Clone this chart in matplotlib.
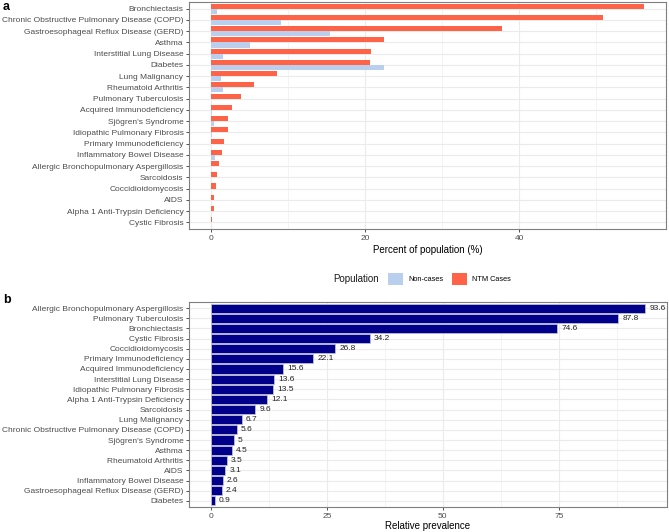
import matplotlib
matplotlib.use("Agg")
import matplotlib.pyplot as plt
from matplotlib.patches import Patch
import numpy as np

plt.rcParams['font.family'] = ['Liberation Sans', 'DejaVu Sans']

# ---- Panel a data ----
cats_a = ["Bronchiectasis", "Chronic Obstructive Pulmonary Disease (COPD)",
          "Gastroesophageal Reflux Disease (GERD)", "Asthma", "Interstitial Lung Disease",
          "Diabetes", "Lung Malignancy", "Rheumatoid Arthritis", "Pulmonary Tuberculosis",
          "Acquired Immunodeficiency", "Sjögren's Syndrome", "Idiopathic Pulmonary Fibrosis",
          "Primary Immunodeficiency", "Inflammatory Bowel Disease",
          "Allergic Bronchopulmonary Aspergillosis", "Sarcoidosis", "Coccidioidomycosis",
          "AIDS", "Alpha 1 Anti-Trypsin Deficiency", "Cystic Fibrosis"]
ntm_cases = [56.2, 50.8, 37.8, 22.5, 20.8, 20.6, 8.6, 5.6, 3.9, 2.7, 2.3, 2.2, 1.7, 1.46,
             1.1, 0.86, 0.73, 0.43, 0.39, 0.2]
non_cases = [0.77, 9.1, 15.5, 5.1, 1.55, 22.5, 1.33, 1.63, 0.05, 0.2, 0.47, 0.2, 0.1, 0.56,
             0.02, 0.1, 0.05, 0.1, 0.05, 0.02]
ticks_a = [0, 20, 40]
legend_title = "Population"
legend_labels = ["Non-cases", "NTM Cases"]

# ---- Panel b data ----
cats_b = ["Allergic Bronchopulmonary Aspergillosis", "Pulmonary Tuberculosis", "Bronchiectasis",
          "Cystic Fibrosis", "Coccidioidomycosis", "Primary Immunodeficiency",
          "Acquired Immunodeficiency", "Interstitial Lung Disease", "Idiopathic Pulmonary Fibrosis",
          "Alpha 1 Anti-Trypsin Deficiency", "Sarcoidosis", "Lung Malignancy",
          "Chronic Obstructive Pulmonary Disease (COPD)", "Sjögren's Syndrome", "Asthma",
          "Rheumatoid Arthritis", "AIDS", "Inflammatory Bowel Disease",
          "Gastroesophageal Reflux Disease (GERD)", "Diabetes"]
rel_prev = [93.6, 87.8, 74.6, 34.2, 26.8, 22.1, 15.6, 13.6, 13.5, 12.1, 9.6, 6.7, 5.6, 5.0,
            4.5, 3.5, 3.1, 2.6, 2.4, 0.9]
ticks_b = [0, 25, 50, 75]

RED = "#FF6347"
BLUE = "#BACFED"
NAVY = "#00008B"
GRID = "#EBEBEB"
TICKCOL = "#4D4D4D"
BORDER = "#333333"
TICKFS = 6.0

W, H = 669, 532
fig = plt.figure(figsize=(W / 100, H / 100), dpi=100)


def px_axes(left, top, right, bottom):
    return fig.add_axes([left / W, 1 - bottom / H, (right - left) / W, (bottom - top) / H])


def style(ax):
    ax.set_facecolor("white")
    for s in ax.spines.values():
        s.set_color("#7F7F7F")
        s.set_linewidth(0.8)
    ax.tick_params(axis="both", which="major", length=2.5, width=0.6, color=BORDER,
                   labelcolor=TICKCOL, labelsize=TICKFS, pad=1.5)
    ax.tick_params(axis="both", which="minor", length=0)
    ax.grid(True, which="major", color=GRID, linewidth=0.8)
    ax.grid(True, which="minor", axis="x", color=GRID, linewidth=0.4)
    ax.set_axisbelow(True)


# ---- Panel a ----
axa = px_axes(189, 2, 666, 229)
n = len(cats_a)
y = np.arange(n)
bh = 0.45
axa.barh(y - bh / 2, ntm_cases, height=bh, color=RED)
axa.barh(y + bh / 2, non_cases, height=bh, color=BLUE)
axa.set_yticks(y)
axa.set_yticklabels(cats_a)
axa.set_ylim(n - 0.4, -0.6)
mx = max(ntm_cases)
axa.set_xlim(-0.05 * mx, mx * 1.05)
axa.set_xticks(ticks_a)
axa.set_xticks([10, 30, 50], minor=True)
style(axa)
axa.set_xlabel("Percent of population (%)", fontsize=7, labelpad=2.5)

# legend (title on the left, entries in a row)
handles = [Patch(facecolor=BLUE, edgecolor="none"), Patch(facecolor=RED, edgecolor="none")]
LEGFS = 5.3
fig.legend(handles, legend_labels, loc="center left",
           bbox_to_anchor=(388 / W, 1 - 279 / H), ncol=2, frameon=False,
           fontsize=LEGFS, handlelength=10.8 / LEGFS, handleheight=10.8 / LEGFS,
           columnspacing=6.5 / LEGFS, handletextpad=3.6 / LEGFS, borderpad=0,
           borderaxespad=0)
fig.text(333 / W, 1 - 279 / H, legend_title, fontsize=7, ha="left", va="center",
         color="#1A1A1A")

# ---- Panel b ----
axb = px_axes(189, 302, 667, 507)
m = len(cats_b)
yb = np.arange(m)
axb.barh(yb, rel_prev, height=0.9, color=NAVY, edgecolor="#C8C8D8", linewidth=0.5)
for yi, v in zip(yb, rel_prev):
    axb.text(v + 0.9, yi, f"{v:g}", va="center", ha="left", fontsize=TICKFS, color="#222222")
axb.set_yticks(yb)
axb.set_yticklabels(cats_b)
axb.set_ylim(m - 0.4, -0.6)
mb = max(rel_prev)
axb.set_xlim(-0.05 * mb, mb * 1.05)
axb.set_xticks(ticks_b)
axb.set_xticks([12.5, 37.5, 62.5, 87.5], minor=True)
style(axb)
axb.set_xlabel("Relative prevalence", fontsize=7, labelpad=1)

fig.text(3 / W, 1 - 7 / H, "a", fontsize=9, fontweight="bold", va="center", ha="left")
fig.text(3 / W, 1 - 300 / H, "b", fontsize=9, fontweight="bold", va="center", ha="left")

fig.savefig("out.png", dpi=100)
